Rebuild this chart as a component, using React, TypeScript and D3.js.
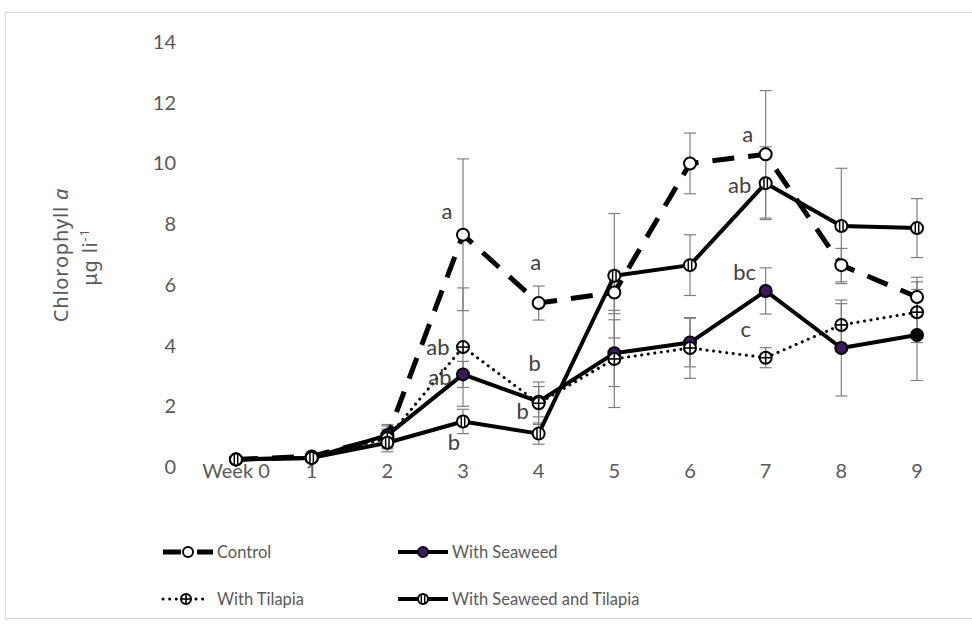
import React from "react";
import * as d3 from "d3";

// Sampling weeks (x categories)
const weeks = ["Week 0", "1", "2", "3", "4", "5", "6", "7", "8", "9"];
const yTicks = [0, 2, 4, 6, 8, 10, 12, 14];

// Chlorophyll a means (µg l-1) and standard deviations per treatment
const control = [0.25, 0.35, 1.0, 7.65, 5.4, 5.75, 10.0, 10.3, 6.65, 5.6];
const controlErr = [0.05, 0.05, 0.4, 2.5, 0.56, 0.7, 1.0, 2.1, 0.55, 0.65];
const seaweed = [0.25, 0.3, 1.05, 3.05, 2.15, 3.75, 4.1, 5.8, 3.92, 4.35];
const seaweedErr = [0.05, 0.05, 0.3, 0.43, 0.5, 1.1, 0.8, 0.76, 1.58, 1.5];
const tilapia = [0.25, 0.3, 0.95, 3.95, 2.1, 3.56, 3.92, 3.6, 4.68, 5.1];
const tilapiaErr = [0.05, 0.05, 0.3, 1.95, 0.7, 1.6, 1.0, 0.33, 0.7, 1.0];
const seaweedTilapia = [0.25, 0.3, 0.8, 1.5, 1.1, 6.3, 6.65, 9.35, 7.94, 7.87];
const seaweedTilapiaErr = [0.05, 0.05, 0.3, 0.4, 0.35, 2.05, 1.0, 1.2, 1.9, 0.97];

// Significance letters: series, week index, letter
const letterSeries = ["control", "tilapia", "seaweed", "st", "control", "tilapia", "seaweed", "control", "st", "seaweed", "tilapia"];
const letterWeeks = [3, 3, 3, 3, 4, 4, 4, 7, 7, 7, 7];
const letterTexts = ["a", "ab", "ab", "b", "a", "b", "b", "a", "ab", "bc", "c"];

type Marker = "open" | "filled" | "plus" | "bars";
interface Series {
  key: string;
  name: string;
  values: number[];
  errors: number[];
  marker: Marker;
  width: number;
  dash?: string;
  cap?: "butt" | "round";
}

const series: Series[] = [
  { key: "control", name: "Control", values: control, errors: controlErr, marker: "open", width: 5, dash: "22 14", cap: "butt" },
  { key: "seaweed", name: "With Seaweed", values: seaweed, errors: seaweedErr, marker: "filled", width: 4 },
  { key: "tilapia", name: "With Tilapia", values: tilapia, errors: tilapiaErr, marker: "plus", width: 3, dash: "0.1 6.5", cap: "round" },
  { key: "st", name: "With Seaweed and Tilapia", values: seaweedTilapia, errors: seaweedTilapiaErr, marker: "bars", width: 4 },
];

// Label offsets from their point (px)
const letterOffsets: [number, number][] = [
  [-16, -23], [-25, 0], [-23, 3], [-9, 21], [-3, -41], [-4, -40], [-16, 10],
  [-18, -20], [-26, 2], [-21, -19], [-20, -28],
];

const FONT = "Lato, 'Noto Sans', sans-serif";
const TITLE_FONT = "'Noto Sans', 'Open Sans', sans-serif";
const GRAY = "#595959";
const PURPLE = "#3f1760";

const x = d3.scalePoint<string>().domain(weeks).range([236, 917]);
const y = d3.scaleLinear().domain([0, 14]).range([467, 42]);

function MarkerShape({ type, cx, cy, r, fill }: { type: Marker; cx: number; cy: number; r: number; fill?: string }) {
  const base = (
    <circle cx={cx} cy={cy} r={r} fill={type === "filled" ? fill ?? PURPLE : "#fff"} stroke="#000" strokeWidth={2} />
  );
  if (type === "plus") {
    return (
      <g>
        {base}
        <line x1={cx - r} x2={cx + r} y1={cy} y2={cy} stroke="#000" strokeWidth={1.6} />
        <line x1={cx} x2={cx} y1={cy - r} y2={cy + r} stroke="#000" strokeWidth={1.6} />
      </g>
    );
  }
  if (type === "bars") {
    const h = Math.sqrt(r * r - 2.2 * 2.2);
    return (
      <g>
        {base}
        <line x1={cx - 1.7} x2={cx - 1.7} y1={cy - h} y2={cy + h} stroke="#000" strokeWidth={1.5} />
        <line x1={cx + 1.7} x2={cx + 1.7} y1={cy - h} y2={cy + h} stroke="#000" strokeWidth={1.5} />
      </g>
    );
  }
  return base;
}

export default function App() {
  const line = d3
    .line<number>()
    .x((_, i) => x(weeks[i])!)
    .y((v) => y(v));

  const byKey: Record<string, Series> = {};
  series.forEach((s) => (byKey[s.key] = s));

  const legendPos: [number, number][] = [
    [163, 552],
    [398, 552],
    [163, 599],
    [398, 599],
  ];

  return (
    <div style={{ position: "absolute", left: 0, top: 0 }}>
      <svg width={972} height={625} style={{ display: "block", fontFamily: FONT }}>
        <rect x={0} y={0} width={972} height={625} fill="#fff" />
        <rect x={5.5} y={12.5} width={980} height={606} fill="none" stroke="#d9d9d9" strokeWidth={1} />

        {/* y-axis tick labels */}
        {yTicks.map((t) => (
          <text key={t} x={176} y={y(t)} dy="0.35em" textAnchor="end" fontSize={20} fill={GRAY}>
            {t}
          </text>
        ))}

        {/* x-axis category labels */}
        {weeks.map((w) => (
          <text key={w} x={x(w)} y={471} dy="0.35em" textAnchor="middle" fontSize={20} fill={GRAY}>
            {w}
          </text>
        ))}

        {/* y-axis title */}
        <g fontFamily={TITLE_FONT} fontSize={20} fill={GRAY} letterSpacing={0.8}>
          <text transform="translate(68,255) rotate(-90)" textAnchor="middle">
            Chlorophyll <tspan fontStyle="italic">a</tspan>
          </text>
          <text transform="translate(97,257) rotate(-90)" textAnchor="middle">
            μg li<tspan fontSize={13} dy={-8}>-1</tspan>
          </text>
        </g>

        {/* error bars */}
        {series.map((s) =>
          s.values.map((v, i) => {
            const cx = x(weeks[i])!;
            const e = s.errors[i];
            const y1 = y(v + e);
            const y2 = y(v - e);
            return (
              <g key={s.key + i} stroke="#7f7f7f" strokeWidth={1.2}>
                <line x1={cx} x2={cx} y1={y1} y2={y2} />
                <line x1={cx - 6} x2={cx + 6} y1={y1} y2={y1} />
                <line x1={cx - 6} x2={cx + 6} y1={y2} y2={y2} />
              </g>
            );
          })
        )}

        {/* series lines */}
        {series.map((s) => (
          <path
            key={s.key}
            d={line(s.values)!}
            fill="none"
            stroke="#000"
            strokeWidth={s.width}
            strokeDasharray={s.dash}
            strokeLinecap={s.cap ?? "butt"}
            strokeLinejoin="round"
          />
        ))}

        {/* markers */}
        {series.map((s) =>
          s.values.map((v, i) => (
            <MarkerShape
              key={s.key + "m" + i}
              type={s.marker}
              cx={x(weeks[i])!}
              cy={y(v)}
              r={6}
              fill={s.key === "seaweed" && i === weeks.length - 1 ? "#000" : PURPLE}
            />
          ))
        )}

        {/* significance letters */}
        {letterTexts.map((t, k) => {
          const s = byKey[letterSeries[k]];
          const wi = letterWeeks[k];
          const [dx, dy] = letterOffsets[k];
          return (
            <text
              key={"l" + k}
              x={x(weeks[wi])! + dx}
              y={y(s.values[wi]) + dy}
              dy="0.35em"
              textAnchor="middle"
              fontSize={22}
              fill="#404040"
            >
              {t}
            </text>
          );
        })}

        {/* legend */}
        {series.map((s, k) => {
          const [lx, ly] = legendPos[k];
          const w = s.key === "tilapia" ? 46 : 50;
          return (
            <g key={"lg" + s.key}>
              <line
                x1={lx}
                x2={lx + w}
                y1={ly}
                y2={ly}
                stroke="#000"
                strokeWidth={s.width}
                strokeDasharray={s.key === "control" ? "18 16 16" : s.dash}
                strokeLinecap={s.cap ?? "butt"}
              />
              <MarkerShape type={s.marker} cx={lx + (s.key === "tilapia" ? 23 : 25)} cy={ly} r={5} />
              <text x={lx + 54} y={ly} dy="0.35em" fontSize={16.5} fill={GRAY}>
                {s.name}
              </text>
            </g>
          );
        })}
      </svg>
    </div>
  );
}
